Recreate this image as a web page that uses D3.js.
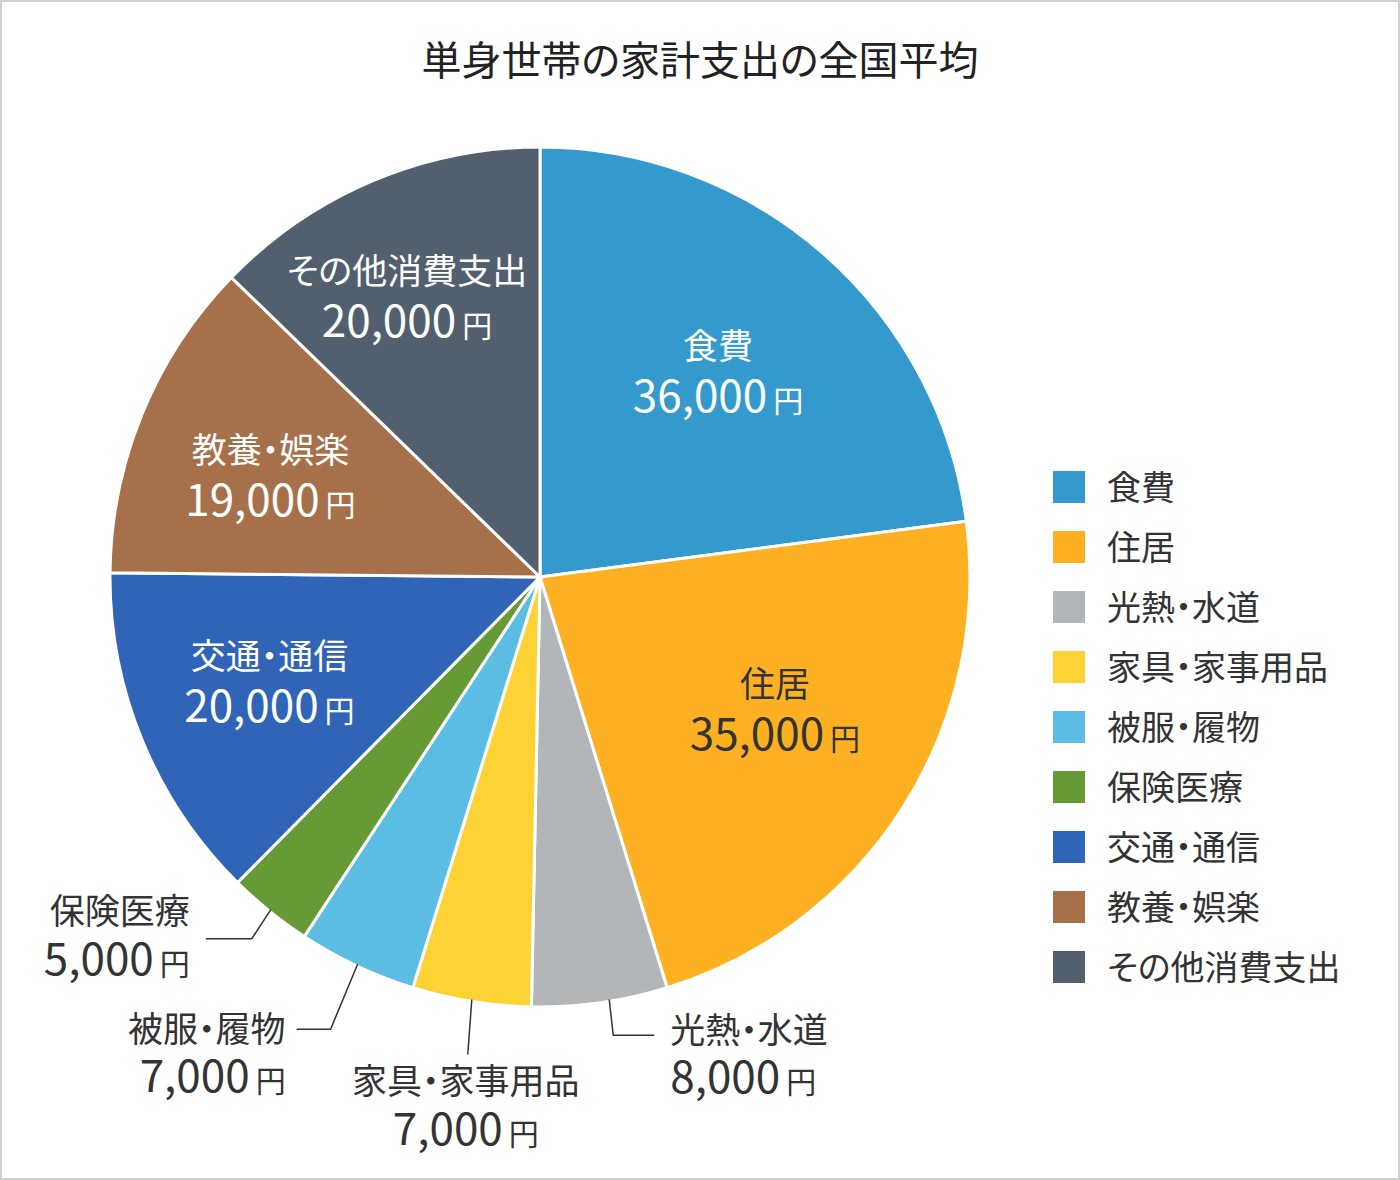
<!DOCTYPE html>
<html>
<head>
<meta charset="utf-8">
<script src="https://cdn.jsdelivr.net/npm/d3@7"></script>
<style>
  body { margin: 0; background: #fff; }
  text { font-family: "Noto Sans CJK JP", "Noto Sans", sans-serif; font-feature-settings: "palt"; }
</style>
</head>
<body>
<div id="chart"></div>
<script>
///////////// data //////////////
var title = '単身世帯の家計支出の全国平均';
var categories = ['食費', '住居', '光熱・水道', '家具・家事用品', '被服・履物', '保険医療', '交通・通信', '教養・娯楽', 'その他消費支出'];
var amounts = [36000, 35000, 8000, 7000, 7000, 5000, 20000, 19000, 20000];
var colors = ['#3499cc', '#fdb122', '#b3b6b9', '#fdd235', '#5bbce4', '#659a35', '#3064b6', '#a6704a', '#525f6e'];
var unit = '円';

///////////// layout //////////////
const width = 1400, height = 1180;
const cx = 540, cy = 577, radius = 430;
const label_radius = 285;

// small hand nudges for the labels drawn inside slices
var inner_nudge = {
  '食費': [-10, 9], '住居': [-5, -21], '交通・通信': [-7, -3],
  '教養・娯楽': [-6, 7], 'その他消費支出': [-22, -18]
};
// leader lines for the small slices
var outer_labels = {
  '光熱・水道':    {t: 0.43, elbow: [4, 36],  hline: 41,  gap: 16, anchor: 'start',  dy1: 8,  dy2: 58},
  '家具・家事用品': {t: 0.5,  elbow: [-4, 55], hline: 0,   gap: -2, anchor: 'middle', dy1: 39, dy2: 90},
  '被服・履物':    {t: 0.5,  elbow: [-27, 65], hline: -34, gap: 11, anchor: 'end',    dy1: 13, dy2: 63},
  '保険医療':      {t: 0.5,  elbow: [-19, 29], hline: -46, gap: 16, anchor: 'end',    dy1: -15, dy2: 36}
};

var svg = d3.select('#chart').append('svg')
  .attr('width', width).attr('height', height);

svg.append('rect')
  .attr('x', 1).attr('y', 1).attr('width', width - 2).attr('height', height - 2)
  .attr('fill', '#fff').attr('stroke', '#d0d0d0').attr('stroke-width', 2);

svg.append('text')
  .attr('x', 700).attr('y', 75)
  .attr('text-anchor', 'middle')
  .attr('font-size', 40).attr('fill', '#222')
  .text(title);

var color = d3.scaleOrdinal().domain(categories).range(colors);
var fmt = d3.format(',');

var data = categories.map((c, i) => ({name: c, value: amounts[i]}));
var pie = d3.pie().sort(null).value(d => d.value);
var arcs = pie(data);

var arc = d3.arc().innerRadius(0).outerRadius(radius);
var label_arc = d3.arc().innerRadius(label_radius).outerRadius(label_radius);

var g = svg.append('g').attr('transform', 'translate(' + cx + ',' + cy + ')');

g.selectAll('path.slice').data(arcs).enter().append('path')
  .attr('class', 'slice')
  .attr('d', arc)
  .attr('fill', d => color(d.data.name))
  .attr('stroke', '#fff')
  .attr('stroke-width', 3);

// two line label: name, then amount with a smaller 円
function add_label(parent, x, y1, y2, anchor, fill, d) {
  var t = parent.append('text')
    .attr('x', x).attr('y', y1)
    .attr('text-anchor', anchor)
    .attr('fill', fill);
  t.append('tspan').attr('font-size', 35).text(d.data.name);
  t.append('tspan').attr('x', x).attr('y', y2).attr('font-size', 44).text(fmt(d.data.value));
  t.append('tspan').attr('font-size', 30).attr('dx', 6).text(unit);
}

arcs.forEach(function(d) {
  var name = d.data.name;
  if (inner_nudge[name]) {
    var c = label_arc.centroid(d);
    var n = inner_nudge[name];
    var x = c[0] + n[0], y = c[1] + n[1];
    var fill = name == '住居' ? '#333' : '#fff';
    add_label(g, x, y - 13, y + 40, 'middle', fill, d);
  } else {
    var o = outer_labels[name];
    var a = d.startAngle + o.t * (d.endAngle - d.startAngle);
    var r = radius - 2;
    var p0 = [r * Math.sin(a), -r * Math.cos(a)];
    var p1 = [p0[0] + o.elbow[0], p0[1] + o.elbow[1]];
    var p2 = [p1[0] + o.hline, p1[1]];
    g.append('path')
      .attr('d', d3.line()([p0, p1, p2]))
      .attr('fill', 'none').attr('stroke', '#333').attr('stroke-width', 1.5);
    var tx = p2[0] + (o.hline < 0 ? -o.gap : o.gap);
    add_label(g, tx, p2[1] + o.dy1, p2[1] + o.dy2, o.anchor, '#333', d);
  }
});

///////////// legend //////////////
var legend = svg.selectAll('.legend').data(categories).enter().append('g')
  .attr('class', 'legend')
  .attr('transform', (d, i) => 'translate(1053,' + (471 + i * 60) + ')');

legend.append('rect')
  .attr('width', 32).attr('height', 32)
  .attr('fill', d => color(d));

legend.append('text')
  .attr('x', 54).attr('y', 29)
  .attr('font-size', 34).attr('fill', '#333')
  .text(d => d);
</script>
</body>
</html>
